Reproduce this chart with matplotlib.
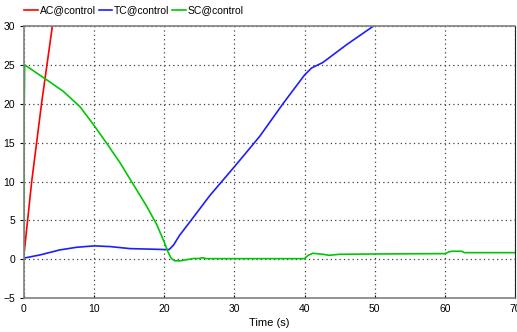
import matplotlib.pyplot as plt

plt.rcParams['font.family'] = ['Liberation Sans', 'DejaVu Sans']

# AC@control
ac_t = [0.0, 1.1, 2.5, 4.05, 4.6]
ac_v = [0.6, 10.0, 20.0, 30.0, 34.0]

# TC@control
tc_t = [0.0, 2.3, 5.1, 7.5, 10.0, 12.3, 15.1, 18.5, 20.0, 20.7, 21.3, 22.2, 23.9,
        26.5, 30.0, 33.6, 37.0, 40.0, 41.0, 42.6, 46.0, 50.0, 51.0]
tc_v = [0.15, 0.56, 1.2, 1.54, 1.72, 1.63, 1.37, 1.29, 1.25, 1.25, 1.8, 3.1, 5.1,
        8.2, 11.9, 15.8, 20.1, 23.7, 24.6, 25.3, 27.6, 30.1, 30.7]

# SC@control
sc_t = [0.0, 0.02, 0.1, 3.2, 5.6, 8.0, 10.0, 11.8, 13.7, 15.6, 17.5, 18.9, 20.0,
        20.5, 21.0, 21.5, 22.3, 24.2, 25.0, 25.4, 26.0, 40.0, 40.5, 41.2, 42.6,
        43.5, 45.0, 52.0, 60.0, 60.6, 61.0, 62.4, 62.8, 70.0]
sc_v = [0.0, 19.0, 25.0, 23.1, 21.6, 19.6, 17.2, 14.9, 12.4, 9.6, 6.8, 4.5, 2.2,
        1.0, 0.1, -0.2, -0.2, 0.1, 0.1, 0.2, 0.08, 0.08, 0.5, 0.77, 0.64,
        0.51, 0.64, 0.69, 0.72, 0.95, 1.03, 1.03, 0.85, 0.85]

xticks = [0, 10, 20, 30, 40, 50, 60, 70]
yticks = [-5, 0, 5, 10, 15, 20, 25, 30]

fig = plt.figure(figsize=(5.17, 3.32), dpi=100)
ax = fig.add_axes([0.0464, 0.102, 0.9497, 0.8197])

ax.plot(ac_t, ac_v, color='#ff0000', lw=1.2, label='AC@control')
ax.plot(tc_t, tc_v, color='#1e1eff', lw=1.2, label='TC@control')
ax.plot(sc_t, sc_v, color='#00c800', lw=1.2, label='SC@control')

ax.set_xlim(0, 70)
ax.set_ylim(-5, 30)
ax.set_xticks(xticks)
ax.set_yticks(yticks)
ax.tick_params(labelsize=7.5, colors='#000000', length=3, width=0.8)
ax.tick_params(axis='x', direction='in', length=2, pad=4)
ax.grid(True, color='#404040', linestyle=(0, (1, 2.5)), linewidth=0.9)

for side in ['left', 'bottom', 'top']:
    ax.spines[side].set_color('#808080')
    ax.spines[side].set_linewidth(1.2)
ax.spines['right'].set_color('#202020')

ax.set_xlabel('Time (s)', fontsize=8, labelpad=3)

fig.legend(loc='upper left', bbox_to_anchor=(0.043, 0.99), ncol=3, frameon=False,
           fontsize=7.5, handlelength=1.3, handletextpad=0.2, columnspacing=0.25,
           borderaxespad=0, borderpad=0.2)

fig.savefig('out.png', dpi=100)
